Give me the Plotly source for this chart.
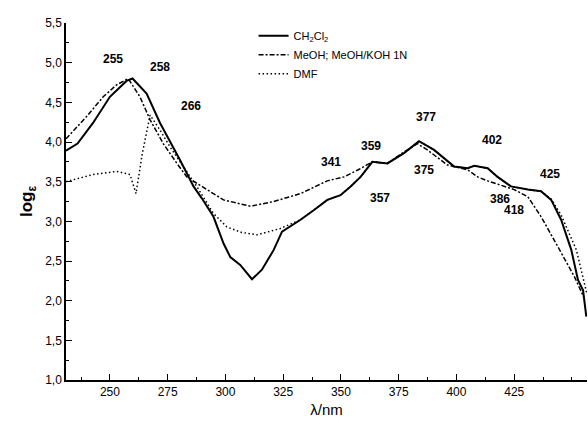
import plotly.graph_objects as go

# CH2Cl2 spectrum (wavelength nm, log eps)
ch2cl2_x = [231, 236, 242.7, 250, 257.2, 259.8, 265.9, 271.7, 280.4, 286.2, 289.8, 294.8,
            299.2, 302.1, 306.4, 311.5, 315.8, 320.9, 324.5, 332.5, 338.2, 344.1, 349.8,
            354.2, 358.5, 363.6, 370.1, 377.3, 383.8, 390.3, 399, 404.8, 407.7, 413.5,
            417.8, 423.6, 430.9, 436.6, 441, 445.3, 449.7, 452.6, 454.8, 456.2]
ch2cl2_y = [3.89, 3.98, 4.24, 4.57, 4.77, 4.80, 4.61, 4.24, 3.77, 3.44, 3.29, 3.06,
            2.72, 2.55, 2.45, 2.27, 2.39, 2.64, 2.87, 3.02, 3.14, 3.27, 3.33,
            3.44, 3.56, 3.75, 3.73, 3.86, 4.01, 3.90, 3.69, 3.67, 3.70, 3.67,
            3.56, 3.44, 3.40, 3.38, 3.27, 3.02, 2.64, 2.26, 2.13, 1.80]

# MeOH; MeOH/KOH 1N spectrum
meoh_x = [231, 239.9, 247.1, 252.9, 257.9, 263, 267.4, 273.1, 279, 283.3, 289.8, 299.2,
          310.8, 320.9, 332.5, 344.1, 351.3, 357.5, 363.6, 370.1, 376, 383.1, 387.4,
          396.1, 404.8, 409.2, 413.5, 425, 430.9, 436.6, 443.9, 451.1, 455]
meoh_y = [4.04, 4.32, 4.57, 4.72, 4.80, 4.57, 4.28, 3.98, 3.73, 3.56, 3.44, 3.27,
          3.19, 3.25, 3.35, 3.51, 3.56, 3.65, 3.75, 3.73, 3.85, 3.98, 3.90,
          3.71, 3.65, 3.56, 3.51, 3.40, 3.31, 3.06, 2.68, 2.30, 2.05]

# DMF spectrum
dmf_x = [231, 242.8, 252.9, 258.7, 261.3, 264, 267.4, 271.7, 276, 281.5, 287.6, 294.8,
         300.6, 307, 313.7, 323.8, 332.5, 338.2, 344.1, 349.8, 354.2, 358.5, 363.6,
         370.1, 377.3, 383.8, 390.3, 399, 404.8, 407.7, 413.5, 417.8, 423.6, 430.9,
         436.6, 441, 445.3, 451.9, 456.5]
dmf_y = [3.50, 3.59, 3.63, 3.59, 3.35, 3.85, 4.34, 4.15, 3.94, 3.70, 3.44, 3.10,
         2.93, 2.86, 2.83, 2.91, 3.02, 3.14, 3.27, 3.33, 3.44, 3.56, 3.75,
         3.73, 3.86, 4.01, 3.90, 3.69, 3.67, 3.70, 3.67, 3.56, 3.44, 3.40,
         3.38, 3.28, 3.08, 2.64, 2.08]

# Peak labels
peak_text = ["255", "258", "266", "341", "359", "357", "377", "375", "402", "386", "418", "425"]
peak_x = [251.3, 271.7, 285.2, 345.9, 362.8, 366.8, 386.7, 385.9, 415.4, 418.8, 424.9, 440.5]
peak_y = [5.04, 4.95, 4.46, 3.75, 3.95, 3.30, 4.32, 3.65, 4.03, 3.28, 3.14, 3.60]

font_main = "Liberation Sans, Arial, sans-serif"
font_narrow = "Liberation Sans Narrow, Liberation Sans, Arial, sans-serif"

fig = go.Figure()
fig.add_trace(go.Scatter(x=ch2cl2_x, y=ch2cl2_y, mode="lines",
                         name="CH<sub>2</sub>Cl<sub>2</sub>",
                         line=dict(color="black", width=2)))
fig.add_trace(go.Scatter(x=meoh_x, y=meoh_y, mode="lines",
                         name="MeOH; MeOH/KOH 1N",
                         line=dict(color="black", width=1.5, dash="5px,2px,2px,2px")))
fig.add_trace(go.Scatter(x=dmf_x, y=dmf_y, mode="lines",
                         name="DMF",
                         line=dict(color="black", width=1.5, dash="1.5px,2.5px")))

for t, x, y in zip(peak_text, peak_x, peak_y):
    fig.add_annotation(x=x, y=y, text="<b>" + t + "</b>", showarrow=False,
                       font=dict(family=font_narrow, size=12, color="black"))

fig.update_layout(
    width=588, height=428,
    margin=dict(l=66, r=1, t=23, b=48),
    paper_bgcolor="white", plot_bgcolor="white",
    separators=",.",
    font=dict(family=font_main, color="black"),
    showlegend=True,
    legend=dict(x=0.36, y=1.005, xanchor="left", yanchor="top",
                bgcolor="rgba(0,0,0,0)", font=dict(size=11, family=font_narrow),
                itemwidth=30, tracegroupgap=0),
)
fig.update_xaxes(range=[231, 456.5], tickvals=[250, 275, 300, 325, 350, 375, 400, 425],
                 showline=True, linecolor="black", linewidth=1.5, mirror=False,
                 ticks="inside", ticklen=6, tickwidth=1.2, tickcolor="black",
                 minor=dict(dtick=12.5, tick0=250, ticks="inside", ticklen=3,
                            tickcolor="black", tickwidth=1),
                 showgrid=False, zeroline=False,
                 tickfont=dict(size=12, family=font_narrow),
                 title=dict(text="λ/nm", font=dict(size=15), standoff=6))
fig.update_yaxes(range=[1, 5.5], dtick=0.5, tick0=1, tickformat=".1f",
                 showline=True, linecolor="black", linewidth=1.5, mirror=False,
                 ticks="inside", ticklen=6, tickwidth=1.2, tickcolor="black",
                 minor=dict(dtick=0.25, tick0=1, ticks="inside", ticklen=3,
                            tickcolor="black", tickwidth=1),
                 showgrid=False, zeroline=False,
                 tickfont=dict(size=12, family=font_narrow),
                 title=dict(text="<b>log<sub>ε</sub></b>", font=dict(size=17), standoff=8))

fig.write_html("out.html")
